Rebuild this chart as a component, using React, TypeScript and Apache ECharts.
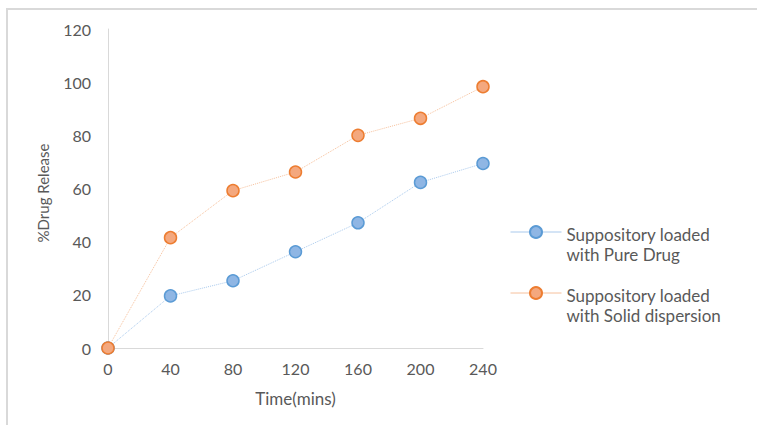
import React, { useEffect, useRef } from "react";
import * as echarts from "echarts";

// Sampling times (minutes) and cumulative release (%) for both formulations
const timePoints = [0, 40, 80, 120, 160, 200, 240];
const pureDrug = [0, 19.6, 25.3, 36.2, 47.1, 62.3, 69.4];
const solidDispersion = [0, 41.5, 59.2, 66.2, 80, 86.4, 98.3];
const seriesNames = [
  "Suppository loaded\nwith Pure Drug",
  "Suppository loaded\nwith Solid dispersion",
];
const xAxisTitle = "Time(mins)";
const yAxisTitle = "%Drug Release";

const FONT = "Lato, 'Open Sans', sans-serif";
const TEXT_GREY = "#595959";
const AXIS_GREY = "#d9d9d9";

export default function App() {
  const ref = useRef<HTMLDivElement>(null);

  useEffect(() => {
    if (!ref.current) return;
    const chart = echarts.init(ref.current, undefined, { renderer: "svg" });

    const toPairs = (vals: number[]) => timePoints.map((t, i) => [t, vals[i]]);

    // Legend labels hang below the marker: a spacer line pushes the two text lines down
    const legendCommon = {
      orient: "vertical" as const,
      left: 505,
      itemWidth: 51,
      itemHeight: 15,
      itemGap: 0,
      formatter: (name: string) =>
        "{gap| }\n" +
        name
          .split("\n")
          .map((line) => `{t|${line}}`)
          .join("\n"),
      textStyle: {
        fontFamily: FONT,
        fontSize: 17,
        color: TEXT_GREY,
        rich: {
          gap: { lineHeight: 24, fontSize: 10 },
          t: { fontFamily: FONT, fontSize: 17, color: TEXT_GREY, lineHeight: 20 },
        },
      },
      lineStyle: { type: "solid" as const, width: 1 },
    };

    chart.setOption({
      animation: false,
      backgroundColor: "#ffffff",
      textStyle: { fontFamily: FONT },
      grid: { left: 108, right: 274, top: 29, bottom: 77, containLabel: false },
      graphic: [
        {
          type: "rect",
          shape: { x: 7, y: 9, width: 800, height: 500 },
          style: { fill: "none", stroke: AXIS_GREY, lineWidth: 2 },
          silent: true,
        },
      ],
      xAxis: {
        type: "value",
        min: 0,
        max: 240,
        interval: 40,
        name: xAxisTitle,
        nameLocation: "middle",
        nameGap: 42,
        nameTextStyle: { fontFamily: FONT, fontSize: 17, color: TEXT_GREY },
        axisLine: { show: true, lineStyle: { color: AXIS_GREY, width: 1 } },
        axisTick: { show: false },
        splitLine: { show: false },
        axisLabel: { fontFamily: FONT, fontSize: 16, color: TEXT_GREY, margin: 12 },
      },
      yAxis: {
        type: "value",
        min: 0,
        max: 120,
        interval: 20,
        name: yAxisTitle,
        nameLocation: "middle",
        nameGap: 58,
        nameTextStyle: {
          fontFamily: FONT,
          fontSize: 15,
          color: TEXT_GREY,
          padding: [0, 9, 0, 0],
        },
        axisLine: { show: true, lineStyle: { color: AXIS_GREY, width: 1 } },
        axisTick: { show: false },
        splitLine: { show: false },
        axisLabel: { fontFamily: FONT, fontSize: 16, color: TEXT_GREY, margin: 17 },
      },
      legend: [
        { ...legendCommon, top: 202, data: [seriesNames[0]] },
        { ...legendCommon, top: 263, data: [seriesNames[1]] },
      ],
      series: [
        {
          name: seriesNames[0],
          type: "line",
          data: toPairs(pureDrug),
          symbol: "circle",
          symbolSize: 12,
          showSymbol: true,
          lineStyle: { color: "#a9c9ec", width: 1, type: "dotted" },
          itemStyle: { color: "#8fb6e4", borderColor: "#5b9bd5", borderWidth: 1.5 },
          z: 3,
        },
        {
          name: seriesNames[1],
          type: "line",
          data: toPairs(solidDispersion),
          symbol: "circle",
          symbolSize: 12,
          showSymbol: true,
          lineStyle: { color: "#f6c09c", width: 1, type: "dotted" },
          itemStyle: { color: "#f4a87e", borderColor: "#ed7d31", borderWidth: 1.5 },
          z: 4,
        },
      ],
    });

    return () => chart.dispose();
  }, []);

  return (
    <div
      ref={ref}
      style={{ position: "fixed", left: 0, top: 0, width: 757, height: 425, background: "#fff" }}
    />
  );
}
